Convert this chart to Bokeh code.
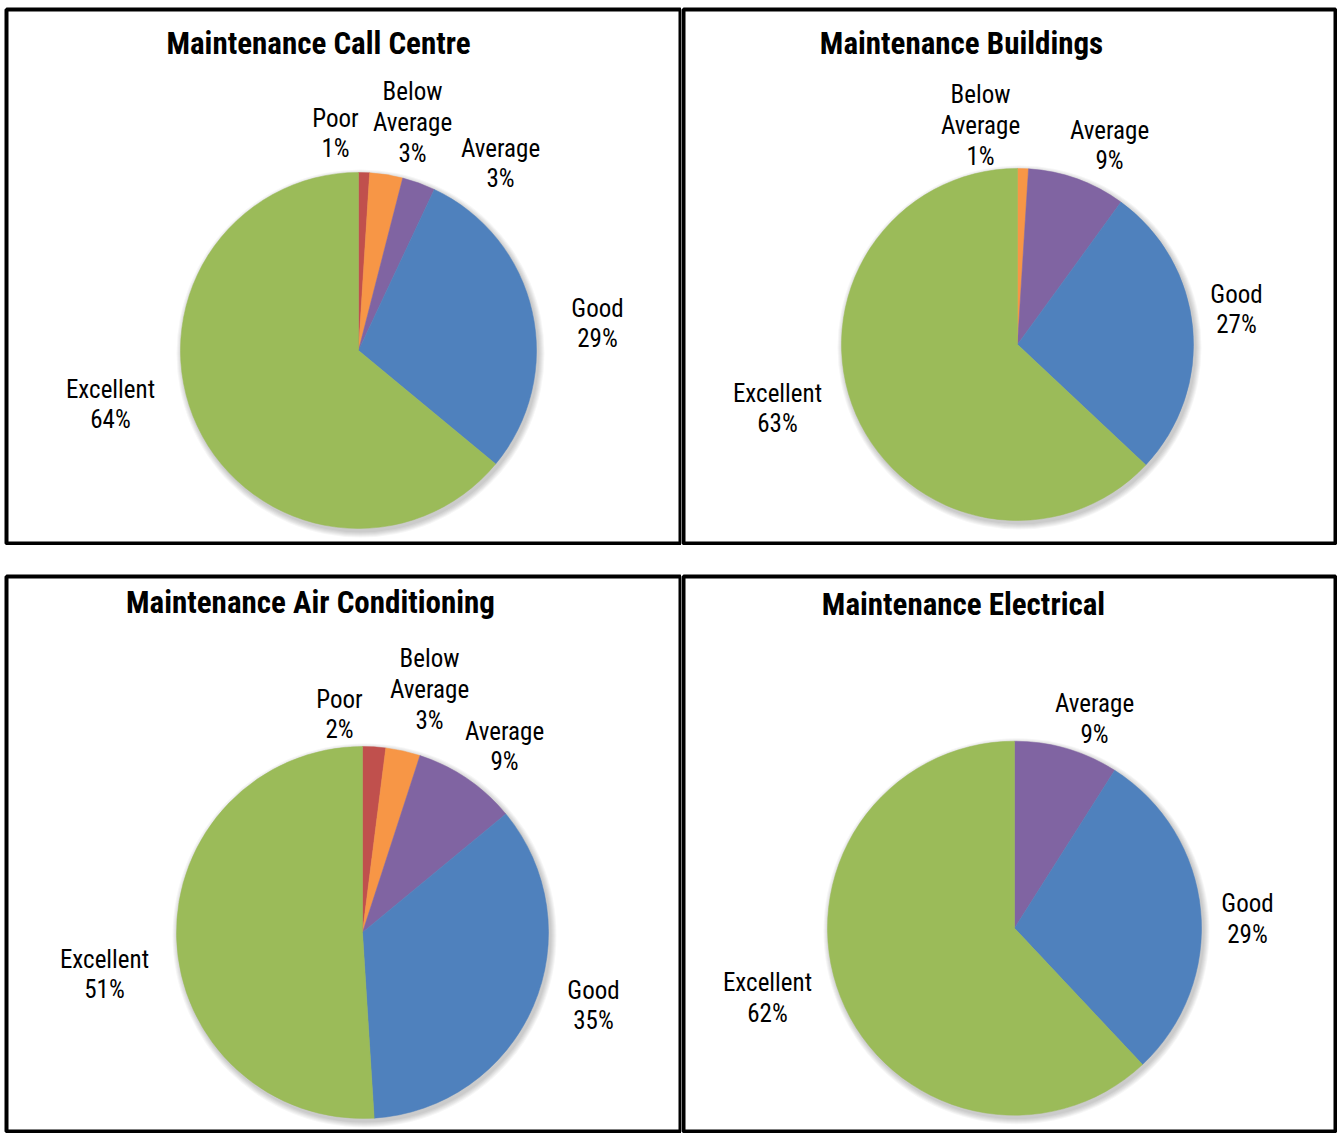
import math
from bokeh.plotting import figure
from bokeh.layouts import column, row
from bokeh.models import Range1d, ColumnDataSource
from bokeh.core.properties import value
from bokeh.embed import file_html
from bokeh.resources import INLINE

# ---------------- data ----------------
titles = ["Maintenance Call Centre", "Maintenance Buildings",
          "Maintenance Air Conditioning", "Maintenance Electrical"]

cats_call = ["Poor", "Below Average", "Average", "Good", "Excellent"]
vals_call = [1, 3, 3, 29, 64]

cats_build = ["Below Average", "Average", "Good", "Excellent"]
vals_build = [1, 9, 27, 63]

cats_air = ["Poor", "Below Average", "Average", "Good", "Excellent"]
vals_air = [2, 3, 9, 35, 51]

cats_elec = ["Average", "Good", "Excellent"]
vals_elec = [9, 29, 62]

# ---------------- styles / layout ----------------
COLORS = {"Poor": "#C0504D", "Below Average": "#F79646", "Average": "#8064A2",
          "Good": "#4F81BD", "Excellent": "#9BBB59"}
FONT = "Liberation Sans Narrow, Arial Narrow, Roboto Condensed, sans-serif"

# figure boxes (absolute page px): x0, y0 of canvas, width, height, and frame borders
# (left, right, top, bottom)
panels = [
    dict(x0=0, y0=0, w=681, h=545, bl=6, br=1, bt=9, bb=2),
    dict(x0=681, y0=0, w=656, h=545, bl=2, br=2, bt=9, bb=2),
    dict(x0=0, y0=545, w=681, h=588, bl=6, br=1, bt=31, bb=2),
    dict(x0=681, y0=545, w=656, h=588, bl=2, br=2, bt=29, bb=2),
]

# pie centre (absolute x, y-down) and radius
pie_geo = [((358, 350), 178), ((1017, 344), 176), ((362, 932), 186), ((1014, 927), 187)]
title_pos = [(318, 43), (961, 43), (310, 602), (963, 602)]
# label block centres, offsets from pie centre (dx, dy-down)
label_off = [
    [(-23, -217), (54, -228), (142, -187), (239, -27), (-248, 54)],
    [(-37, -219), (92, -199), (219, -35), (-240, 64)],
    [(-23, -218), (67, -243), (142, -186), (231, 73), (-258, 42)],
    [(80, -210), (233, -9), (-247, 70)],
]


def make_panel(title, cats, vals, box, geo, tpos, offs):
    fx0 = box["x0"] + box["bl"]
    fx1 = box["x0"] + box["w"] - box["br"]
    fy0 = box["y0"] + box["bt"]
    fy1 = box["y0"] + box["h"] - box["bb"]
    p = figure(width=box["w"], height=box["h"],
               x_range=Range1d(fx0, fx1), y_range=Range1d(-fy1, -fy0),
               output_backend="svg", toolbar_location=None,
               min_border_left=box["bl"], min_border_right=box["br"],
               min_border_top=box["bt"], min_border_bottom=box["bb"])
    p.axis.visible = False
    p.grid.visible = False
    p.outline_line_color = "black"
    p.outline_line_width = 4
    p.background_fill_color = "white"
    p.border_fill_color = "white"

    (cx, cyd), r = geo
    cy = -cyd
    total = float(sum(vals))

    # soft shadow
    for k in range(1, 7):
        p.circle(x=[cx + 2], y=[cy - 3], radius=r + k, radius_units="screen",
                 fill_color="#000000", fill_alpha=0.035, line_color=None)

    starts, ends = [], []
    cum = 0.0
    for v in vals:
        starts.append(math.pi / 2 - 2 * math.pi * cum / total)
        cum += v
        ends.append(math.pi / 2 - 2 * math.pi * cum / total)
    src = ColumnDataSource(dict(x=[cx] * len(vals), y=[cy] * len(vals),
                                start=starts, end=ends,
                                color=[COLORS[c] for c in cats]))
    p.wedge(x="x", y="y", radius=r, radius_units="screen", start_angle="start",
            end_angle="end", direction="clock", fill_color="color",
            line_color="color", line_width=0.5, source=src)

    labels = [c.replace(" ", "\n") + "\n" + f"{v}%" for c, v in zip(cats, vals)]
    lx = [cx + o[0] for o in offs]
    ly = [cy - o[1] for o in offs]
    p.text(x=lx, y=ly, text=labels, text_align="center", text_baseline="middle",
           text_font=value(FONT), text_font_size="25px", text_line_height=1.06,
           text_color="black")

    p.text(x=[tpos[0]], y=[-tpos[1]], text=[title], text_align="center",
           text_baseline="middle", text_font=value(FONT), text_font_size="31px",
           text_font_style="bold", text_color="black")
    return p


p1 = make_panel(titles[0], cats_call, vals_call, panels[0], pie_geo[0], title_pos[0], label_off[0])
p2 = make_panel(titles[1], cats_build, vals_build, panels[1], pie_geo[1], title_pos[1], label_off[1])
p3 = make_panel(titles[2], cats_air, vals_air, panels[2], pie_geo[2], title_pos[2], label_off[2])
p4 = make_panel(titles[3], cats_elec, vals_elec, panels[3], pie_geo[3], title_pos[3], label_off[3])

layout = column(row(p1, p2, spacing=0), row(p3, p4, spacing=0), spacing=0)

open("out.html", "w").write(file_html(layout, INLINE))
